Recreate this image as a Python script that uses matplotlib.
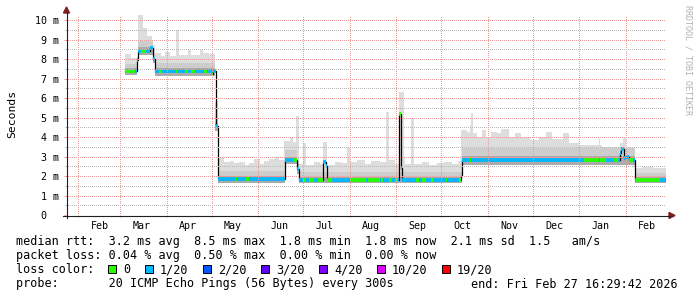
import numpy as np
import pandas as pd
import matplotlib
matplotlib.use("Agg")
import matplotlib.pyplot as plt
import matplotlib.dates as mdates
from matplotlib.lines import Line2D
from matplotlib.patches import Rectangle, Polygon
from matplotlib.ticker import MultipleLocator, NullFormatter

plt.rcParams["font.family"] = "DejaVu Sans Mono"

window_start = "2025-01-23 16:29:42"
window_end = "2026-02-27 16:29:42"

# median rtt (ms), each value holds until the next date
median_dates = [
    "2025-03-04", "2025-03-12", "2025-03-13", "2025-03-21", "2025-03-23",
    "2025-03-24", "2025-05-01", "2025-05-02", "2025-05-04", "2025-05-05",
    "2025-06-19", "2025-06-27", "2025-06-28", "2025-07-14", "2025-07-16",
    "2025-07-17", "2025-09-03", "2025-09-04", "2025-09-05", "2025-10-14",
    "2025-10-15", "2026-01-28", "2026-01-29", "2026-01-31", "2026-02-01",
    "2026-02-03", "2026-02-07",
]
median_ms = [
    7.4, 7.95, 8.4, 8.55, 8.0,
    7.4, 7.25, 7.4, 4.55, 1.85,
    2.8, 2.35, 1.8, 2.7, 2.5,
    1.8, 5.2, 2.4, 1.8, 2.05,
    2.8, 3.2, 3.4, 2.9, 3.0,
    2.8, 1.8,
]

# slowest ping (top of the smoke), ms
smoke_dates = [
    "2025-03-04", "2025-03-08", "2025-03-13", "2025-03-16", "2025-03-19",
    "2025-03-22", "2025-03-24", "2025-03-28", "2025-03-31", "2025-04-03",
    "2025-04-07", "2025-04-09", "2025-04-15", "2025-04-17", "2025-04-23",
    "2025-04-25", "2025-04-29", "2025-05-03", "2025-05-05", "2025-05-09",
    "2025-05-13", "2025-05-16", "2025-05-19", "2025-05-23", "2025-05-26",
    "2025-05-29", "2025-06-02", "2025-06-05", "2025-06-08", "2025-06-12",
    "2025-06-15", "2025-06-18", "2025-06-22", "2025-06-24", "2025-06-26",
    "2025-06-28", "2025-07-01", "2025-07-03", "2025-07-08", "2025-07-12",
    "2025-07-14", "2025-07-17", "2025-07-22", "2025-07-26", "2025-07-30",
    "2025-08-01", "2025-08-06", "2025-08-11", "2025-08-15", "2025-08-21",
    "2025-08-25", "2025-08-27", "2025-08-31", "2025-09-03", "2025-09-06",
    "2025-09-07", "2025-09-11", "2025-09-13", "2025-09-18", "2025-09-23",
    "2025-09-28", "2025-10-03", "2025-10-08", "2025-10-12", "2025-10-14",
    "2025-10-18", "2025-10-20", "2025-10-21", "2025-10-22", "2025-10-25",
    "2025-10-28", "2025-10-31", "2025-11-03", "2025-11-07", "2025-11-10",
    "2025-11-15", "2025-11-19", "2025-11-23", "2025-11-29", "2025-12-05",
    "2025-12-10", "2025-12-14", "2025-12-21", "2025-12-25", "2026-01-01",
    "2026-01-14", "2026-01-15", "2026-01-16", "2026-01-28", "2026-01-30",
    "2026-02-01", "2026-02-06", "2026-02-07", "2026-02-12", "2026-02-19",
]
smoke_top_ms = [
    8.25, 8.05, 10.3, 9.6, 9.2,
    8.7, 8.3, 8.15, 8.35, 8.15,
    9.5, 8.2, 8.45, 8.2, 8.45,
    8.3, 8.25, 5.8, 3.0, 2.7,
    2.75, 2.65, 2.7, 2.55, 2.65,
    2.85, 2.6, 2.75, 2.85, 2.95,
    2.8, 3.8, 3.95, 3.75, 5.1,
    2.6, 3.7, 2.55, 2.7, 2.6,
    3.75, 2.55, 2.7, 2.65, 3.5,
    2.7, 2.8, 2.6, 2.75, 2.7,
    5.3, 2.8, 2.6, 6.3, 3.0,
    2.6, 5.0, 2.6, 2.7, 2.55,
    2.65, 2.7, 2.6, 2.75, 4.35,
    4.25, 4.6, 5.25, 4.2, 4.0,
    4.35, 4.0, 4.25, 4.2, 4.4,
    4.0, 4.2, 4.0, 3.85, 4.0,
    4.25, 3.9, 4.2, 3.7, 3.6,
    3.95, 3.6, 3.5, 3.7, 3.95,
    3.5, 2.45, 2.4, 2.45, 2.4,
]

# smoke body per period: fastest ping, top of dark core, top of mid band (ms)
body_dates = [
    "2025-03-04", "2025-03-12", "2025-03-13", "2025-03-23", "2025-03-24",
    "2025-05-03", "2025-05-05", "2025-06-19", "2025-06-27", "2025-06-28",
    "2025-10-15", "2026-02-07",
]
body_floor_ms = [7.2, 7.8, 8.2, 7.8, 7.15, 4.3, 1.65, 2.6, 2.1, 1.65, 2.55, 1.65]
body_dark_ms = [7.55, 8.0, 8.6, 8.1, 7.55, 4.7, 2.0, 3.0, 2.6, 1.95, 3.05, 1.95]
body_mid_ms = [7.75, 8.1, 8.9, 8.3, 7.8, 5.0, 2.25, 3.35, 2.8, 2.2, 3.45, 2.15]

# stretches with no loss (green); the rest of the median line is 1/20
green_from = [
    "2025-03-04", "2025-03-15", "2025-03-27", "2025-04-07", "2025-04-13",
    "2025-04-17", "2025-04-26", "2025-05-01", "2025-05-17", "2025-05-24",
    "2025-06-25", "2025-07-01", "2025-07-05", "2025-07-11", "2025-07-17",
    "2025-08-01", "2025-08-13", "2025-08-22", "2025-08-27", "2025-08-31",
    "2025-09-03", "2025-09-14", "2025-09-18", "2025-09-24", "2025-10-04",
    "2025-10-13", "2025-10-20", "2026-01-04", "2026-01-15", "2026-01-24",
    "2026-02-03", "2026-02-08",
]
green_to = [
    "2025-03-11", "2025-03-18", "2025-03-29", "2025-04-08", "2025-04-15",
    "2025-04-20", "2025-04-28", "2025-05-02", "2025-05-18", "2025-05-26",
    "2025-06-27", "2025-07-03", "2025-07-08", "2025-07-14", "2025-07-20",
    "2025-08-12", "2025-08-21", "2025-08-23", "2025-08-29", "2025-09-02",
    "2025-09-04", "2025-09-16", "2025-09-21", "2025-09-26", "2025-10-05",
    "2025-10-15", "2025-10-21", "2026-01-14", "2026-01-19", "2026-01-27",
    "2026-02-06", "2026-02-24",
]

loss_labels = ["0", "1/20", "2/20", "3/20", "4/20", "10/20", "19/20"]
loss_colors = ["#26ff00", "#00b8ff", "#0059ff", "#5e00ff", "#7e00ff", "#dd00ff", "#ff0000"]

y_ticks = [0, 1, 2, 3, 4, 5, 6, 7, 8, 9, 10]
y_tick_labels = ["0  ", "1 m", "2 m", "3 m", "4 m", "5 m", "6 m", "7 m", "8 m", "9 m", "10 m"]

stats_rtt = "median rtt:  3.2 ms avg  8.5 ms max  1.8 ms min  1.8 ms now  2.1 ms sd  1.5   am/s"
stats_loss = "packet loss: 0.04 % avg  0.50 % max  0.00 % min  0.00 % now"
probe_text = "probe:       20 ICMP Echo Pings (56 Bytes) every 300s"
end_text = "end: Fri Feb 27 16:29:42 2026"

# colours (rrdtool defaults on white)
MGRID = "#eb9a9a"
GRID = "#b8b8b8"
AXIS = "#1f1f1f"
ARROW = "#801f1f"

W, H = 697, 297


def fx(x):
    return x / W


def fy(y):
    return 1 - y / H


def dnum(dates):
    return mdates.date2num(pd.to_datetime(dates))


def steps(at, values, grid):
    idx = np.searchsorted(at, grid, side="right") - 1
    return np.asarray(values, dtype=float)[idx]


fig = plt.figure(figsize=(W / 100, H / 100), dpi=100)
fig.patch.set_facecolor("white")
ax = fig.add_axes([fx(66), fy(215), 600 / W, 200 / H])

t0 = dnum([window_start])[0]
t1 = dnum([window_end])[0]

md = dnum(median_dates)
sd = dnum(smoke_dates)
bd = dnum(body_dates)
gf = dnum(green_from)
gt = dnum(green_to)

grid_t = np.unique(np.concatenate([md, sd, bd, gf, gt, [t1]]))
grid_t = grid_t[(grid_t >= md[0]) & (grid_t <= t1)]

top = steps(sd, smoke_top_ms, grid_t)
floor = steps(bd, body_floor_ms, grid_t)
dark = steps(bd, body_dark_ms, grid_t)
mid = steps(bd, body_mid_ms, grid_t)
med = steps(md, median_ms, grid_t)

# smoke
ax.fill_between(grid_t, floor, top, step="post", color="#dddddd", lw=0, zorder=1)
ax.fill_between(grid_t, floor, mid, step="post", color="#cdcdcd", lw=0, zorder=1.1)
ax.fill_between(grid_t, floor, dark, step="post", color="#ababab", lw=0, zorder=1.2)

# median, black joins then loss-coloured segments
ax.step(grid_t, med, where="post", color="black", lw=0.9, zorder=1.5)
seg_mid = (grid_t[:-1] + grid_t[1:]) / 2
is_green = np.zeros(len(seg_mid), dtype=bool)
for a, b in zip(gf, gt):
    is_green |= (seg_mid >= a) & (seg_mid < b)
seg_cols = [loss_colors[0] if g else loss_colors[1] for g in is_green]
ax.hlines(med[:-1], grid_t[:-1], grid_t[1:], colors=seg_cols, lw=2.7,
          capstyle="butt", zorder=1.6)

ax.set_xlim(t0, t1)
ax.set_ylim(0, 200 / 19.5)

# grid and ticks
ax.set_yticks(y_ticks)
ax.set_yticklabels(y_tick_labels)
ax.yaxis.set_minor_locator(MultipleLocator(0.5))
ax.xaxis.set_major_locator(mdates.MonthLocator())
ax.xaxis.set_major_formatter(NullFormatter())
ax.xaxis.set_minor_locator(mdates.MonthLocator(bymonthday=15))
ax.xaxis.set_minor_formatter(mdates.DateFormatter("%b"))

ax.set_axisbelow(False)
dots = dict(lw=0.72, linestyle=(0, (1, 2)), antialiased=False)
ax.grid(axis="y", which="major", color=MGRID, **dots)
ax.grid(axis="y", which="minor", color=GRID, **dots)
ax.grid(axis="x", which="major", color=MGRID, **dots)

ax.tick_params(axis="y", which="major", length=1.5, width=0.7, color=MGRID,
               pad=3.2, labelsize=7.2)
ax.tick_params(axis="y", which="minor", length=0.8, width=0.7, color=GRID)
ax.tick_params(axis="x", which="major", length=1.5, width=0.7, color=MGRID)
ax.tick_params(axis="x", which="minor", length=0, pad=4.2, labelsize=7.2)

for s in ax.spines.values():
    s.set_visible(False)
ax.set_facecolor("white")

# axes with arrows
fig.add_artist(Line2D([fx(66.5), fx(66.5)], [fy(218), fy(12)], color=AXIS, lw=0.8,
                      transform=fig.transFigure))
fig.add_artist(Line2D([fx(63), fx(670)], [fy(215.5), fy(215.5)], color=AXIS, lw=0.8,
                      transform=fig.transFigure))
fig.add_artist(Polygon([(fx(63.5), fy(13)), (fx(69.5), fy(13)), (fx(66.5), fy(7))],
                       closed=True, color=ARROW, transform=fig.transFigure))
fig.add_artist(Polygon([(fx(669), fy(212.5)), (fx(669), fy(218.5)), (fx(675), fy(215.5))],
                       closed=True, color=ARROW, transform=fig.transFigure))

fig.text(fx(12), fy(114), "Seconds", rotation=90, ha="center", va="center", fontsize=8.2)
fig.text(fx(688), fy(5), "RRDTOOL / TOBI OETIKER", rotation=270, ha="center", va="top",
         fontsize=6, color="#b0b0b0")

# legend block
fs = 8.5
fig.text(fx(16), fy(244.5), stats_rtt, fontsize=fs, va="baseline")
fig.text(fx(16), fy(259), stats_loss, fontsize=fs, va="baseline")
fig.text(fx(16), fy(273.3), "loss color:", fontsize=fs, va="baseline")
box_x = [108, 145, 203, 261, 319, 377, 442]
for bx, lab, col in zip(box_x, loss_labels, loss_colors):
    fig.add_artist(Rectangle((fx(bx), fy(272.5)), 8 / W, 7.5 / H, facecolor=col,
                             edgecolor="black", lw=0.7, transform=fig.transFigure))
    fig.text(fx(bx + 15), fy(273.3), lab, fontsize=fs, va="baseline")
fig.text(fx(16), fy(287.5), probe_text, fontsize=fs, va="baseline")
fig.text(fx(678), fy(287.5), end_text, fontsize=fs, va="baseline", ha="right")

fig.savefig("out.png", dpi=100, facecolor="white")
